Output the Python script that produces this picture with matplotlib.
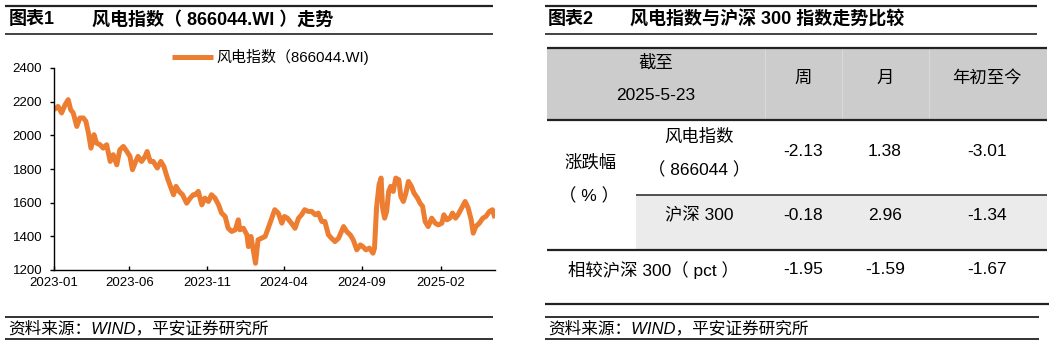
import matplotlib
matplotlib.use('Agg')

import matplotlib.pyplot as plt
import matplotlib.dates as mdates
import pandas as pd

plt.rcParams['font.family'] = ['Liberation Sans', 'Noto Sans CJK SC']
plt.rcParams['axes.unicode_minus'] = False

# ---------------- DATA ----------------
dates = [
    "2023-01-03", "2023-01-11", "2023-01-18", "2023-01-25", "2023-01-31", "2023-02-05",
    "2023-02-10", "2023-02-17", "2023-02-23", "2023-03-02", "2023-03-07", "2023-03-12",
    "2023-03-17", "2023-03-23", "2023-03-28", "2023-04-04", "2023-04-10", "2023-04-17",
    "2023-04-24", "2023-04-30", "2023-05-07", "2023-05-13", "2023-05-20", "2023-05-27",
    "2023-06-02", "2023-06-07", "2023-06-12", "2023-06-18", "2023-06-25", "2023-07-02",
    "2023-07-06", "2023-07-12", "2023-07-18", "2023-07-26", "2023-08-02", "2023-08-08",
    "2023-08-15", "2023-08-21", "2023-08-27", "2023-09-01", "2023-09-07", "2023-09-14",
    "2023-09-22", "2023-09-29", "2023-10-05",
    "2023-10-09", "2023-10-15", "2023-10-22", "2023-10-28", "2023-11-04", "2023-11-10",
    "2023-11-17", "2023-11-24", "2023-11-30", "2023-12-07", "2023-12-13", "2023-12-20",
    "2023-12-27", "2024-01-02", "2024-01-05", "2024-01-12", "2024-01-19", "2024-01-22",
    "2024-01-27", "2024-02-01", "2024-02-05", "2024-02-10", "2024-02-17", "2024-02-24",
    "2024-03-01", "2024-03-08", "2024-03-14", "2024-03-21", "2024-03-28", "2024-04-02",
    "2024-04-08", "2024-04-16", "2024-04-23", "2024-04-30", "2024-05-06", "2024-05-12",
    "2024-05-19", "2024-05-26", "2024-06-02", "2024-06-08", "2024-06-15", "2024-06-21",
    "2024-06-28", "2024-07-04", "2024-07-11", "2024-07-18",
    "2024-07-28", "2024-08-03", "2024-08-10", "2024-08-16", "2024-08-23", "2024-08-30",
    "2024-09-04", "2024-09-10", "2024-09-17", "2024-09-24", "2024-09-27", "2024-10-01",
    "2024-10-06", "2024-10-10", "2024-10-13", "2024-10-17", "2024-10-21", "2024-10-25",
    "2024-10-29", "2024-11-03", "2024-11-08", "2024-11-14", "2024-11-18", "2024-11-23",
    "2024-11-28", "2024-12-03", "2024-12-09", "2024-12-14", "2024-12-21", "2024-12-26",
    "2024-12-31", "2025-01-05", "2025-01-11", "2025-01-18", "2025-01-25", "2025-01-31",
    "2025-02-07", "2025-02-11", "2025-02-17", "2025-02-23", "2025-02-28", "2025-03-06",
    "2025-03-11", "2025-03-18", "2025-03-25", "2025-03-31", "2025-04-06", "2025-04-10",
    "2025-04-15", "2025-04-22", "2025-04-29", "2025-05-05", "2025-05-12", "2025-05-18",
    "2025-05-23",
]
wind_index = [
    2152, 2172, 2133, 2182, 2212, 2152,
    2133, 2053, 2103, 2103, 2083, 2014,
    1924, 2004, 1954, 1944, 1924, 1944,
    1845, 1885, 1825, 1914, 1934, 1904,
    1875, 1796, 1835, 1875, 1845, 1875,
    1904, 1845, 1845, 1806, 1845, 1815,
    1746, 1697, 1647, 1697, 1667, 1647,
    1597, 1627, 1647,
    1647, 1667, 1587, 1627, 1607, 1647,
    1627, 1587, 1538, 1518, 1448, 1429,
    1439, 1498, 1439, 1448, 1409, 1339,
    1399, 1310, 1240, 1379, 1389, 1399,
    1448, 1508, 1558, 1538, 1478, 1518,
    1508, 1478, 1448, 1508, 1528, 1558,
    1548, 1548, 1528, 1538, 1488, 1488,
    1409, 1389, 1369, 1389,
    1458, 1429, 1409, 1379, 1320, 1349,
    1339, 1320, 1330, 1300, 1330, 1568,
    1707, 1746, 1568, 1508, 1548, 1667,
    1697, 1667, 1746, 1736, 1637, 1607,
    1657, 1726, 1697, 1657, 1627, 1597,
    1578, 1488, 1458, 1508, 1478, 1468,
    1478, 1528, 1498, 1508, 1538, 1508,
    1528, 1568, 1607, 1568, 1498, 1419,
    1458, 1478, 1508, 1518, 1548, 1558,
    1508,
]
series_label = "风电指数（866044.WI)"
y_ticks = [1200, 1400, 1600, 1800, 2000, 2200, 2400]
x_ticks = ["2023-01-03", "2023-06-01", "2023-11-01", "2024-04-01", "2024-09-02", "2025-02-05"]

# table
as_of = "2025-5-23"
col_labels = ["周", "月", "年初至今"]
wind_row = ["-2.13", "1.38", "-3.01"]
hs300_row = ["-0.18", "2.96", "-1.34"]
rel_row = ["-1.95", "-1.59", "-1.67"]

title1 = "风电指数（ 866044.WI ）走势"
title2 = "风电指数与沪深 300 指数走势比较"
source = "资料来源：WIND，平安证券研究所"

# ---------------- FIGURE ----------------
W, H = 1056, 345
fig = plt.figure(figsize=(W / 100, H / 100), dpi=100)

ov = fig.add_axes([0, 0, 1, 1])
ov.set_xlim(0, W)
ov.set_ylim(H, 0)
ov.axis('off')


def hline(y, x0, x1, lw=1.4, color='#222222'):
    ov.plot([x0, x1], [y, y], color=color, lw=lw, solid_capstyle='butt')


# title rules and footers
for x0, x1 in [(5, 493), (545, 1037)]:
    hline(6, x0, x1, lw=1.6)
    hline(34, x0, x1, lw=1.2)
for x0, x1 in [(5, 493), (545, 1039)]:
    hline(316.5, x0, x1, lw=1.3)
    hline(338.5, x0, x1, lw=1.3)

ov.text(9, 20, "图表1", fontsize=13, fontweight='bold', va='center')
ov.text(92, 20, title1, fontsize=13, fontweight='bold', va='center')
ov.text(548, 20, "图表2", fontsize=13, fontweight='bold', va='center')
ov.text(630, 20, title2, fontsize=13, fontweight='bold', va='center')

ov.text(8, 328, source, fontsize=12, style='italic', va='center')
ov.text(548, 328, source, fontsize=12, style='italic', va='center')

# ---------------- TABLE ----------------
ov.add_patch(plt.Rectangle((547, 47), 500, 73, color='#cccccc', lw=0))
ov.add_patch(plt.Rectangle((636, 195), 411, 55, color='#ebebeb', lw=0))
for x in [765, 842, 929]:
    ov.plot([x, x], [47, 120], color='#dadada', lw=0.7)

hline(47.5, 547, 1047, lw=1.6)
hline(120, 547, 1047, lw=1.6)
hline(195, 636, 1047, lw=1.1)
hline(250, 547, 1047, lw=1.6)
hline(304, 545, 1049, lw=1.6)

tfs = 12.5
col_x = [803, 885, 987]
ov.text(656, 62, "截至", fontsize=tfs, ha='center', va='center')
ov.text(656, 95, as_of, fontsize=tfs, ha='center', va='center')
for x, lab in zip(col_x, col_labels):
    ov.text(x, 78, lab, fontsize=tfs, ha='center', va='center')

ov.text(590, 162, "涨跌幅", fontsize=tfs, ha='center', va='center')
ov.text(589, 196, "（ % ）", fontsize=tfs, ha='center', va='center')
ov.text(699, 137, "风电指数", fontsize=tfs, ha='center', va='center')
ov.text(699, 170, "（ 866044 ）", fontsize=tfs, ha='center', va='center')
ov.text(699, 215, "沪深 300", fontsize=tfs, ha='center', va='center')
ov.text(653, 270, "相较沪深 300（ pct ）", fontsize=tfs, ha='center', va='center')

for x, a, b, c in zip(col_x, wind_row, hs300_row, rel_row):
    ov.text(x, 151, a, fontsize=tfs, ha='center', va='center')
    ov.text(x, 215, b, fontsize=tfs, ha='center', va='center')
    ov.text(x, 270, c, fontsize=tfs, ha='center', va='center')

# ---------------- LINE CHART ----------------
ax = fig.add_axes([54 / W, 1 - 270 / H, (495 - 54) / W, (270 - 68) / H])
ax.patch.set_alpha(0)
line, = ax.plot(pd.to_datetime(dates), wind_index, color='#ED7D31', lw=3.6,
                solid_joinstyle='round', solid_capstyle='butt')

ax.set_ylim(1200, 2400)
ax.set_yticks(y_ticks)
ax.set_xlim(pd.Timestamp(dates[0]), pd.Timestamp(dates[-1]))
ax.set_xticks(pd.to_datetime(x_ticks))
ax.xaxis.set_major_formatter(mdates.DateFormatter('%Y-%m'))

for s in ['top', 'right']:
    ax.spines[s].set_visible(False)
for s in ['left', 'bottom']:
    ax.spines[s].set_color('black')
    ax.spines[s].set_linewidth(1.0)

ax.tick_params(axis='x', direction='in', length=3, width=1, labelsize=9.5, pad=5)
ax.tick_params(axis='y', direction='out', length=3, width=1, labelsize=9.5, pad=5.5)

ax.legend([line], [series_label], loc='center left',
          bbox_to_anchor=(172 / W, 1 - 57 / H), bbox_transform=fig.transFigure,
          frameon=False, fontsize=10.8, handlelength=2.7, handletextpad=0.25,
          borderpad=0, borderaxespad=0)

fig.savefig('out.png', dpi=100)
